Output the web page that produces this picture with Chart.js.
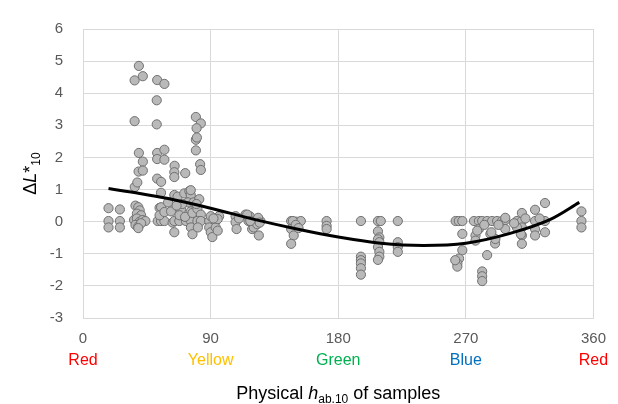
<!DOCTYPE html>
<html>
<head>
<meta charset="utf-8">
<script src="https://cdn.jsdelivr.net/npm/chart.js@4/dist/chart.umd.min.js"></script>
<style>
html,body{margin:0;padding:0;background:#fff;}
#wrap{width:618px;height:404px;}
</style>
</head>
<body>
<div id="wrap"><canvas id="c" width="618" height="404"></canvas></div>
<script>
// Sample hue angles (h_ab,10) and Delta L*10 values
const sampleHue = [
  18,18,18,26,26,26,
  36.4,39.4,42.2,36.4,39.4,42.2,39.2,42.2,36.5,38.3,
  37,39,40,38,41,36,38,40,42,44,37,39,41,39,
  52.3,57.4,52,52,52.3,57.4,52.3,57.4,52.3,55.1,55,54,55.1,52.7,55,57.4,54,57.4,
  64.6,64.4,64.4,72.1,64.4,66.7,71.4,75,76,76,62.1,69.1,76,63.2,64.4,67.9,72.6,76.1,64.4,76.1,77.2,68,72,74,70,66,60,78,77.2,
  79.6,83.1,80.1,79.6,80.3,79.6,82.6,83.1,80.7,83.1,80.7,83.1,81,82,80,
  89,89,90.1,91.2,93.6,93.6,96,90.1,95,95,92,
  107.6,107.6,108.3,114.6,116.7,117.6,119.3,119.3,120.4,122.8,124,125.1,123.5,124.6,115.8,118,110,
  146.8,150.3,153.6,148,146.8,148.6,146.8,150,152,
  171.8,171.8,171.8,
  196,196,196,196,196,196,
  208,210,208,209,208,209,208,209,209,208,
  222,222,222,222,
  262.8,265,267.5,267.5,267.5,265.2,264,264,262.5,
  275.7,279.2,281.5,285,288.5,292,295.5,297.8,276.8,276.8,279.2,278,287.3,290.6,290.8,288,285,281.5,281.5,281.5,297.8,297.8,293,283,
  306,309.5,309.5,309.5,309.5,309.5,306,308.8,312,304,
  318.8,318.8,318.8,318.8,325.8,325.8,325.8,322,
  351.5,351.5,351.5
];
const sampleDeltaL = [
  0.42,0.02,-0.18,0.38,0.02,-0.18,
  4.40,4.85,4.53,3.13,2.14,1.87,1.56,1.59,1.08,1.22,
  0.5,0.45,0.35,0.25,0.2,0.05,0.1,0.0,0.05,0.02,-0.1,-0.15,-0.05,-0.2,
  4.41,4.29,3.78,3.03,2.14,2.24,1.95,1.93,1.34,1.24,0.9,0.43,0.45,0.02,0.02,0.02,0.2,0.3,
  1.74,1.54,1.39,1.51,0.83,0.78,0.88,0.95,0.83,0.98,0.32,0.38,0.32,-0.03,0.02,0.02,0.02,0.02,-0.33,-0.18,-0.39,0.2,0.15,0.6,0.55,0.5,0.6,0.6,0.27,
  3.26,3.06,2.91,2.55,2.62,2.22,1.79,1.61,0.4,0.22,0.02,0.02,-0.18,0.7,0.55,
  0.02,-0.18,-0.33,-0.48,0.02,-0.18,0.17,0.17,0.08,-0.28,0.1,
  0.17,-0.02,-0.23,0.22,0.02,0.17,0.0,-0.23,-0.18,-0.08,-0.43,0.02,0.12,-0.03,0.22,0.02,0.1,
  0.02,0.0,0.02,0.02,-0.23,-0.43,-0.69,-0.1,-0.2,
  0.02,-0.13,-0.23,
  0.02,-1.09,-1.2,-1.3,-1.45,-1.65,
  0.02,0.02,-0.3,-0.49,-0.55,-0.64,-0.79,-0.94,-1.09,-1.19,
  0.02,-0.64,-0.79,-0.94,
  0.02,0.02,0.02,-0.38,-0.89,-1.15,-1.3,-1.4,-1.2,
  0.02,0.02,0.02,0.02,0.02,0.02,0.02,0.05,-0.43,-0.59,-0.23,-0.28,-0.38,-0.68,-0.54,-0.33,-1.04,-1.55,-1.7,-1.85,-0.23,0.12,-0.1,-0.1,
  0.02,0.02,0.27,-0.18,-0.43,-0.69,-0.18,-0.39,0.1,-0.05,
  0.37,0.02,-0.23,-0.43,0.58,0.02,-0.33,0.1,
  0.32,0.02,-0.18
];
// Trend curve
const trendHue = [18,40,60,90,120,150,180,210,240,270,300,330,350];
const trendDeltaL = [1.03,0.88,0.72,0.42,0.08,-0.22,-0.48,-0.67,-0.74,-0.67,-0.38,0.08,0.60];
// Axis ticks and hue names
const xTicks = [0,90,180,270,360];
const hueNames = ['Red','Yellow','Green','Blue','Red'];
const hueNameColors = ['#ff0000','#ffc000','#00b050','#0070c0','#ff0000'];
const yMin = -3, yMax = 6;

const FONT = '"Liberation Sans", Arial, sans-serif';

const scatterData = sampleHue.map((x,i)=>({x:x,y:sampleDeltaL[i]}));
const trendData = trendHue.map((x,i)=>({x:x,y:trendDeltaL[i]}));

function drawPieces(ctx, pieces, x, y, align){
  let total = 0;
  pieces.forEach(p=>{ctx.font=p.font; p.w=ctx.measureText(p.t).width; total+=p.w;});
  let cx = align==='center' ? x - total/2 : x;
  pieces.forEach(p=>{
    ctx.font=p.font;
    ctx.fillText(p.t, cx, y + (p.dy||0));
    cx += p.w;
  });
}

const labelsPlugin = {
  id:'labelsPlugin',
  afterDraw(chart){
    const ctx = chart.ctx;
    const xs = chart.scales.x;
    const area = chart.chartArea;
    ctx.save();
    ctx.textAlign='center';
    ctx.textBaseline='middle';
    ctx.font = '16px ' + FONT;
    xTicks.forEach((v,i)=>{
      ctx.fillStyle = hueNameColors[i];
      ctx.fillText(hueNames[i], xs.getPixelForValue(v), area.bottom + 43);
    });
    // x title
    ctx.textAlign='left';
    ctx.textBaseline='alphabetic';
    ctx.fillStyle='#000';
    drawPieces(ctx, [
      {t:'Physical ', font:'18px '+FONT},
      {t:'h', font:'italic 18px '+FONT},
      {t:'ab.10', font:'12px '+FONT, dy:4},
      {t:' of samples', font:'18px '+FONT}
    ], (area.left+area.right)/2, area.bottom + 81, 'center');
    // y title
    ctx.translate(36, (area.top+area.bottom)/2);
    ctx.rotate(-Math.PI/2);
    drawPieces(ctx, [
      {t:'\u0394', font:'18px '+FONT},
      {t:'L', font:'italic 18px '+FONT},
      {t:'*', font:'18px '+FONT},
      {t:'10', font:'12px '+FONT, dy:4}
    ], 0, 0, 'center');
    ctx.restore();
  }
};

new Chart(document.getElementById('c'), {
  type:'scatter',
  data:{
    datasets:[
      {
        type:'line',
        data: trendData,
        borderColor:'#000',
        borderWidth:3,
        pointRadius:0,
        tension:0.4,
        cubicInterpolationMode:'monotone',
        fill:false,
        order:0
      },
      {
        data: scatterData,
        backgroundColor:'#b9b9b9',
        borderColor:'#707070',
        borderWidth:1,
        pointRadius:4.6,
        order:1
      }
    ]
  },
  options:{
    responsive:false,
    animation:false,
    layout:{padding:{left:0,right:21,top:22,bottom:0}},
    plugins:{legend:{display:false},tooltip:{enabled:false}},
    scales:{
      x:{
        type:'linear', min:0, max:360,
        afterFit(s){ s.height = 86; },
        afterBuildTicks(s){ s.ticks = xTicks.map(v=>({value:v})); },
        grid:{color:'#d9d9d9', drawTicks:false, lineWidth:1},
        border:{color:'#d9d9d9'},
        ticks:{color:'#595959', font:{family:FONT, size:15}, padding:12, maxRotation:0}
      },
      y:{
        type:'linear', min:yMin, max:yMax,
        afterFit(s){ s.width = 83; },
        grid:{color:'#d9d9d9', drawTicks:false, lineWidth:1},
        border:{color:'#d9d9d9'},
        ticks:{stepSize:1, color:'#595959', font:{family:FONT, size:15}, padding:20}
      }
    }
  },
  plugins:[labelsPlugin]
});
</script>
</body>
</html>
